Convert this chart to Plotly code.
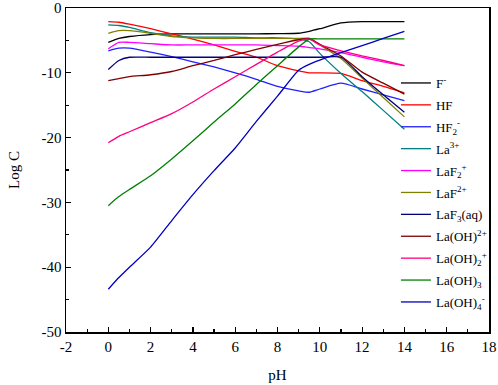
import plotly.graph_objects as go

pH = [0, 0.5, 1, 2, 3, 4, 5, 6, 7, 8, 9, 9.5, 10, 11, 12, 13, 14]

F_minus   = [-5.3, -4.7, -4.4, -4.1, -4.0, -4.0, -4.0, -4.0, -4.0, -3.95, -3.9, -3.6, -3.2, -2.3, -2.1, -2.1, -2.1]
HF        = [-2.1, -2.2, -2.5, -3.2, -4.0, -4.8, -5.7, -6.7, -7.6, -8.9, -9.7, -10.0, -10.0, -10.1, -11.2, -12.1, -13.1]
HF2       = [-6.6, -6.2, -6.2, -6.8, -7.5, -8.3, -9.1, -10.0, -11.0, -12.1, -12.8, -13.0, -12.5, -11.6, -12.5, -13.4, -14.3]
La3       = [-2.6, -2.7, -3.0, -3.8, -4.3, -4.5, -4.5, -4.5, -4.6, -4.6, -4.8, -5.2, -7.0, -10.1, -12.9, -15.8, -18.7]
LaF2p     = [-6.3, -5.3, -5.3, -5.5, -5.7, -5.7, -5.7, -5.7, -5.7, -5.8, -5.9, -6.1, -6.3, -6.9, -7.6, -8.3, -8.9]
LaF2plus  = [-3.9, -3.5, -3.5, -3.9, -4.4, -4.6, -4.7, -4.7, -4.7, -4.7, -4.7, -4.7, -5.7, -7.8, -10.8, -13.8, -16.8]
LaF3aq    = [-9.5, -8.1, -7.6, -7.6, -7.6, -7.6, -7.6, -7.6, -7.6, -7.6, -7.6, -7.6, -7.6, -7.6, -10.6, -13.4, -16.1]
LaOH2plus = [-11.2, -10.9, -10.6, -10.3, -9.8, -8.9, -8.1, -7.2, -6.4, -5.6, -4.9, -4.7, -5.6, -7.4, -9.9, -11.6, -13.3]
LaOH2p    = [-20.8, -19.8, -19.1, -17.7, -16.3, -14.5, -12.5, -10.6, -8.7, -6.8, -5.1, -4.8, -5.7, -6.6, -7.4, -8.1, -8.9]
LaOH3     = [-30.5, -29.1, -28.0, -25.9, -23.3, -20.5, -17.6, -14.8, -11.8, -8.9, -6.0, -4.8, -4.76, -4.76, -4.76, -4.76, -4.76]
LaOH4     = [-43.4, -41.6, -40.0, -36.9, -32.8, -28.8, -25.1, -21.6, -17.5, -13.6, -9.6, -8.7, -8.05, -6.9, -5.8, -4.7, -3.6]

x_tickvals = [-2, 0, 2, 4, 6, 8, 10, 12, 14, 16, 18]
x_ticktext = ["-2", "0", "2", "4", "6", "8", "10", "12", "14", "16", "18"]
y_tickvals = [0, -10, -20, -30, -40, -50]
y_ticktext = ["0", "-10", "-20", "-30", "-40", "-50"]

series = [
    ("F<sup>-</sup>", F_minus, "#000000"),
    ("HF", HF, "#FF0000"),
    ("HF<sub>2</sub><sup>-</sup>", HF2, "#2020FF"),
    ("La<sup>3+</sup>", La3, "#008080"),
    ("LaF<sub>2</sub><sup>+</sup>", LaF2p, "#FF00FF"),
    ("LaF<sup>2+</sup>", LaF2plus, "#808000"),
    ("LaF<sub>3</sub>(aq)", LaF3aq, "#000080"),
    ("La(OH)<sup>2+</sup>", LaOH2plus, "#800000"),
    ("La(OH)<sub>2</sub><sup>+</sup>", LaOH2p, "#FF0080"),
    ("La(OH)<sub>3</sub>", LaOH3, "#008000"),
    ("La(OH)<sub>4</sub><sup>-</sup>", LaOH4, "#0000C0"),
]

fig = go.Figure()
for name, ys, col in series:
    fig.add_trace(go.Scatter(x=pH, y=ys, mode="lines", name=name, legendgroup=name,
                             line=dict(color=col, width=1.3, shape="spline", smoothing=0.6)))

font_family = "Liberation Serif"
axis_common = dict(
    showline=True, linecolor="black", linewidth=1.5, mirror=True,
    ticks="inside", ticklen=5, tickwidth=1.2, tickcolor="black",
    showgrid=False, zeroline=False, ticklabeloverflow="allow", automargin=False,
    tickfont=dict(family=font_family, size=15, color="black"),
)

fig.update_layout(
    width=498, height=385,
    margin=dict(l=66, r=9, t=8, b=53, autoexpand=False),
    paper_bgcolor="white", plot_bgcolor="white",
    font=dict(family=font_family, color="black"),
    showlegend=True,
    legend=dict(x=0.780, y=0.8148, xanchor="left", yanchor="top",
                bgcolor="rgba(0,0,0,0)", borderwidth=0,
                font=dict(family=font_family, size=13, color="black"),
                tracegroupgap=2),
    xaxis=dict(range=[-2, 18], tickvals=x_tickvals, ticktext=x_ticktext,
               minor=dict(ticks="inside", ticklen=3, dtick=1, tickcolor="black"),
               title=dict(text="pH", font=dict(family=font_family, size=15), standoff=16),
               **axis_common),
    yaxis=dict(range=[-50, 0], tickvals=y_tickvals, ticktext=y_ticktext,
               minor=dict(ticks="inside", ticklen=3, dtick=5, tickcolor="black"),
               title=dict(text="Log C", font=dict(family=font_family, size=15), standoff=18),
               **axis_common),
)

# remove the browser's default 8px body margin so the 498x385 figure fills the window
fig.write_html("out.html",
               config={"displayModeBar": False, "staticPlot": True},
               post_script="document.body.style.margin='0';document.body.style.overflow='hidden';")
